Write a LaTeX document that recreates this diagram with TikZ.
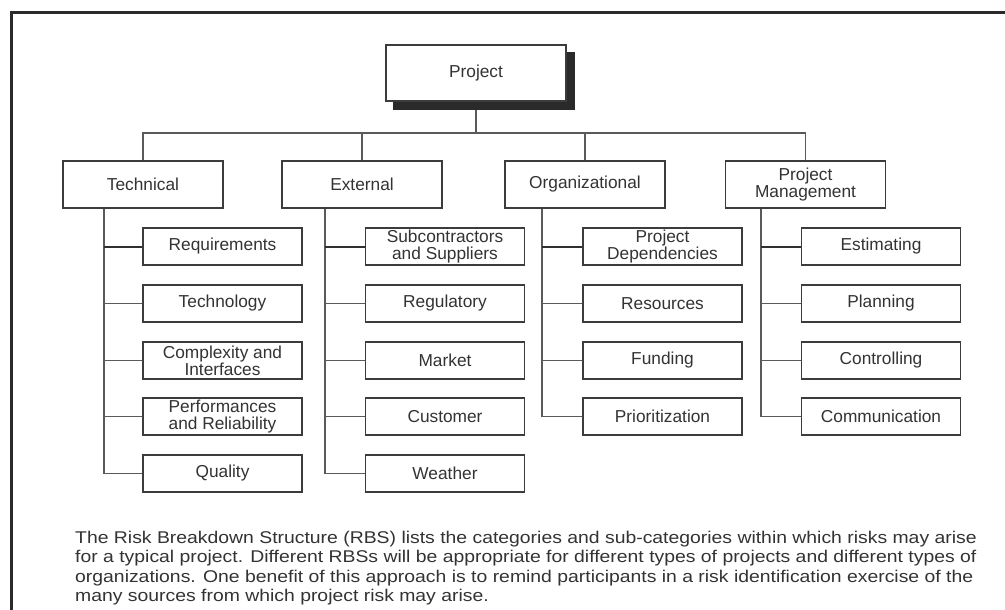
\documentclass[tikz,border=0pt]{standalone}
\usepackage{fontspec}
\setmainfont{Liberation Sans}
\newfontfamily\capfont[FakeStretch=1.14]{Liberation Sans}
\usepackage{xcolor}
\usetikzlibrary{positioning}
\definecolor{boxc}{HTML}{3C3C3C}
\definecolor{linec}{HTML}{5A5A5A}
\definecolor{txtc}{HTML}{333333}

\begin{document}
\begin{tikzpicture}[x=1pt,y=-1pt,
  base/.style={draw=boxc,line width=1.5pt,fill=white,align=center,inner sep=0pt,text=txtc,
    font=\fontsize{17.3}{17}\selectfont},
  projbox/.style={base,minimum width=180pt,minimum height=56pt},
  catbox/.style={base,minimum width=160pt,minimum height=47pt},
  subbox/.style={base,minimum width=159pt,minimum height=37pt},
  conn/.style={draw=linec,line width=1.5pt},
  firstconn/.style={draw=boxc!80!black,line width=2pt}]
  \useasboundingbox (0,0) rectangle (1005,610);
  % frame
  \draw[boxc!70!black,line width=3pt] (11,610)--(11,13)--(1005,13);
  % top level
  \coordinate (bus) at (0,133);
  \node[projbox] (proj) at (476,73) {Project};
  \draw[conn] (proj.south)--(proj.south |- bus);
  \fill[boxc!70!black] ([shift={(8,8)}]proj.south west) rectangle ([shift={(8,8)}]proj.north east);
  \node[projbox] at (proj) {Project};
  % categories
  \node[catbox] (tech) at (143,184.5) {Technical};
  \node[catbox] (ext) at (362,184.5) {External};
  \node[catbox] (org) at (585,184.5) {Organizational};
  \node[catbox] (pm) at (805.5,184.5) {Project\\Management};
  \draw[conn] (tech.north)--(tech.north |- bus)--(pm.north |- bus)--(pm.north);
  \draw[conn] (ext.north)--(ext.north |- bus); \draw[conn] (org.north)--(org.north |- bus);
  % Technical
  \node[subbox] (t1) at (222.5,246.5) {Requirements};
  \node[subbox] (t2) at (222.5,303.5) {Technology};
  \node[subbox] (t3) at (222.5,360.5) {Complexity and\\Interfaces};
  \node[subbox] (t4) at (222.5,416.5) {Performances\\and Reliability};
  \node[subbox] (t5) at (222.5,473.5) {Quality};
  \coordinate (tsp) at (104,0);
  \draw[conn] (tech.south -| tsp) |- (t5.west);
  \draw[conn] (tsp |- t2.west)--(t2.west); \draw[conn] (tsp |- t3.west)--(t3.west); \draw[conn] (tsp |- t4.west)--(t4.west);
  \draw[firstconn] (tsp |- t1.west)--(t1.west);
  % External
  \node[subbox] (e1) at (445,246.5) {Subcontractors\\and Suppliers};
  \node[subbox] (e2) at (445,303.5) {Regulatory};
  \node[subbox] (e3) at (445,360.5) {Market};
  \node[subbox] (e4) at (445,416.5) {Customer};
  \node[subbox] (e5) at (445,473.5) {Weather};
  \coordinate (esp) at (325,0);
  \draw[conn] (ext.south -| esp) |- (e5.west);
  \draw[conn] (esp |- e2.west)--(e2.west); \draw[conn] (esp |- e3.west)--(e3.west); \draw[conn] (esp |- e4.west)--(e4.west);
  \draw[firstconn] (esp |- e1.west)--(e1.west);
  % Organizational
  \node[subbox] (o1) at (662.5,246.5) {Project\\Dependencies};
  \node[subbox] (o2) at (662.5,303.5) {Resources};
  \node[subbox] (o3) at (662.5,360.5) {Funding};
  \node[subbox] (o4) at (662.5,416.5) {Prioritization};
  \coordinate (osp) at (542,0);
  \draw[conn] (org.south -| osp) |- (o4.west);
  \draw[conn] (osp |- o2.west)--(o2.west); \draw[conn] (osp |- o3.west)--(o3.west);
  \draw[firstconn] (osp |- o1.west)--(o1.west);
  % Project Management
  \node[subbox] (m1) at (881,246.5) {Estimating};
  \node[subbox] (m2) at (881,303.5) {Planning};
  \node[subbox] (m3) at (881,360.5) {Controlling};
  \node[subbox] (m4) at (881,416.5) {Communication};
  \coordinate (msp) at (761,0);
  \draw[conn] (pm.south -| msp) |- (m4.west);
  \draw[conn] (msp |- m2.west)--(m2.west); \draw[conn] (msp |- m3.west)--(m3.west);
  \draw[firstconn] (msp |- m1.west)--(m1.west);
  % caption
  \node[anchor=north west,align=left,inner sep=0pt,text=txtc,font=\capfont\fontsize{17}{19.3}\selectfont] (cap) at (75,531)
    {The Risk Breakdown Structure (RBS) lists the categories and sub-categories within which risks may arise\\
     for a typical project. Different RBSs will be appropriate for different types of projects and different types of\\
     organizations. One benefit of this approach is to remind participants in a risk identification exercise of the\\
     many sources from which project risk may arise.};
\end{tikzpicture}
\end{document}
